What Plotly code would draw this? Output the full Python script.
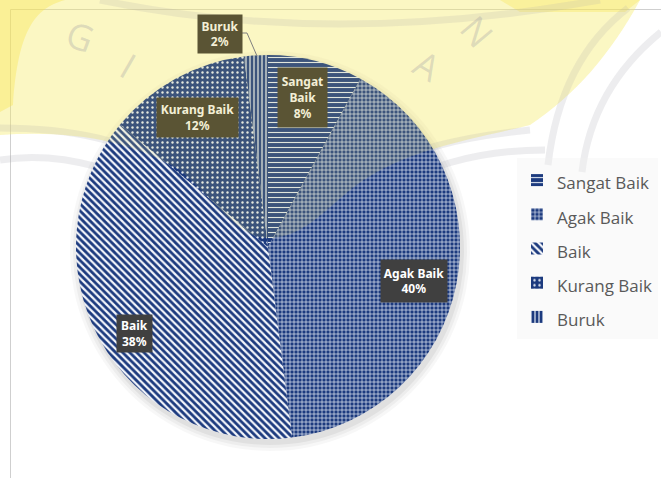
import plotly.graph_objects as go

# ---- data -------------------------------------------------------------
categories = ["Sangat Baik", "Agak Baik", "Baik", "Kurang Baik", "Buruk"]
percentages = [8, 40, 38, 12, 2]

# ---- canvas helpers (pixel -> paper) ----------------------------------
W, H = 661, 478


def px(x):
    return x / W


def py(y):
    return 1 - y / H


NAVY = "#1c3a7e"
FONT = "Noto Sans"

# per-slice hatch styles (Sangat Baik, Agak Baik, Baik, Kurang Baik, Buruk)
pattern = dict(
    shape=["-", "+", "\\", ".", "|"],
    size=[5, 4, 5, 5, 4],
    solidity=[0.22, 0.3, 0.45, 0.18, 0.3],
    fgcolor=["#dde5f0", "#eef2fa", "#f4f6fb", "#e3e9f3", "#e6ecf5"],
    bgcolor=[NAVY] * 5,
)

# legend entries use a large line box with the visible text kept at 17px
legend_labels = [f"<span style='font-size:17px'>{c}</span>" for c in categories]

fig = go.Figure()

fig.add_trace(
    go.Pie(
        labels=legend_labels,
        values=percentages,
        sort=False,
        direction="clockwise",
        rotation=0,
        textinfo="none",
        hoverinfo="percent",
        marker=dict(colors=[NAVY] * 5, line=dict(width=0), pattern=pattern),
        domain=dict(x=[px(76), px(460)], y=[py(439), py(55)]),
        showlegend=True,
    )
)

shapes = []

# soft shadow under the pie
for r, a in [(200, 0.03), (197, 0.04), (194, 0.05)]:
    cx, cy = 270, 251
    shapes.append(dict(type="circle", xref="paper", yref="paper",
                       x0=px(cx - r), x1=px(cx + r), y0=py(cy + r), y1=py(cy - r),
                       fillcolor=f"rgba(0,0,0,{a})", line=dict(width=0), layer="below"))

# chart-area frame (top and left edges)
shapes.append(dict(type="path", xref="paper", yref="paper",
                   path=f"M{px(10.5)},{py(478)} L{px(10.5)},{py(9.5)} L{px(661)},{py(9.5)}",
                   line=dict(color="#cfcfcf", width=1), layer="below"))


def path(points_cmd):
    """Build an SVG path string from pixel-space commands."""
    out = []
    for item in points_cmd:
        if isinstance(item, str):
            out.append(item)
        else:
            out.append(f"{px(item[0])},{py(item[1])}")
    return " ".join(out)


# background emblem: pale yellow shield with grey rings
shield = path(["M", (0, 0), "L", (640, 0),
               "C", (610, 55), (575, 95), (530, 125),
               "C", (470, 140), (400, 150), (350, 190),
               "C", (320, 215), (300, 238), (268, 238),
               "C", (238, 238), (215, 200), (180, 170),
               "C", (130, 140), (70, 130), (0, 135), "Z"])
shapes.append(dict(type="path", xref="paper", yref="paper", path=shield,
                   fillcolor="rgba(246,236,110,0.30)", line=dict(width=0), layer="below"))
# faint tint of the emblem over the pie
shapes.append(dict(type="path", xref="paper", yref="paper", path=shield,
                   fillcolor="rgba(246,236,110,0.15)", line=dict(width=0), layer="above"))

corner = path(["M", (0, 0), "L", (65, 0), "C", (35, 8), (18, 30), (13, 105), "L", (0, 112), "Z"])
shapes.append(dict(type="path", xref="paper", yref="paper", path=corner,
                   fillcolor="rgba(250,225,60,0.35)", line=dict(width=0), layer="below"))
corner_r = path(["M", (500, 0), "L", (640, 0), "L", (625, 12), "L", (520, 12), "Z"])
shapes.append(dict(type="path", xref="paper", yref="paper", path=corner_r,
                   fillcolor="rgba(250,225,60,0.30)", line=dict(width=0), layer="below"))

ring_color = "rgba(175,175,180,0.22)"
rings = [
    ["M", (0, 128), "C", (70, 128), (130, 140), (180, 172),
     "C", (215, 200), (238, 232), (268, 232),
     "C", (300, 232), (320, 210), (350, 186),
     "C", (400, 148), (470, 136), (530, 130)],
    ["M", (0, 160), "C", (60, 150), (120, 170), (170, 195),
     "C", (210, 220), (240, 248), (268, 248),
     "C", (300, 248), (330, 225), (360, 205),
     "C", (420, 165), (480, 150), (545, 150)],
    ["M", (100, 0), "Q", (330, 48), (600, 0)],
    ["M", (628, 8), "Q", (560, 60), (548, 165)],
    ["M", (661, 32), "Q", (592, 88), (582, 172)],
]
for r in rings:
    shapes.append(dict(type="path", xref="paper", yref="paper", path=path(r),
                       line=dict(color=ring_color, width=7), layer="below"))

# leader line for the small "Buruk" slice
shapes.append(dict(type="path", xref="paper", yref="paper",
                   path=path(["M", (242, 33), "L", (247, 33), "L", (257, 56)]),
                   line=dict(color="#7f7f7f", width=1), layer="above"))

annotations = []

# emblem lettering
for ch, (x, y), ang in [("G", (80, 37), 20), ("I", (128, 66), 30),
                        ("A", (427, 65), 30), ("N", (477, 32), 50)]:
    annotations.append(dict(text=ch, x=px(x), y=py(y), xref="paper", yref="paper",
                            xanchor="center", yanchor="middle",
                            showarrow=False, textangle=ang,
                            font=dict(family="Open Sans", size=36, color="rgba(150,150,160,0.30)")))

# data-label callouts: (center_x, center_y, box_w, box_h, fill, text colour)
OLIVE = "#5a5434"
DARK = "#404040"
label_boxes = {
    "Sangat Baik": (302.5, 97.5, 49, 59, OLIVE, "#f3efd6"),
    "Agak Baik": (414, 281, 66, 42, DARK, "#ffffff"),
    "Baik": (134.5, 333.5, 35, 37, DARK, "#ffffff"),
    "Kurang Baik": (197.5, 117.5, 81, 39, OLIVE, "#f3efd6"),
    "Buruk": (220, 34, 44, 38, OLIVE, "#f3efd6"),
}
for cat, val in zip(categories, percentages):
    cx, cy, bw, bh, fill, tc = label_boxes[cat]
    name = "Sangat<br>Baik" if cat == "Sangat Baik" else cat
    annotations.append(dict(
        text=f"{name}<br>{val}%", x=px(cx), y=py(cy), xref="paper", yref="paper",
        xanchor="center", yanchor="middle",
        showarrow=False, bgcolor=fill, borderpad=0, width=bw, height=bh,
        align="center", valign="middle",
        font=dict(family=FONT, size=12, color=tc, weight=700),
    ))

fig.update_layout(
    width=W, height=H,
    margin=dict(l=0, r=0, t=0, b=0),
    paper_bgcolor="white",
    plot_bgcolor="white",
    shapes=shapes,
    annotations=annotations,
    legend=dict(
        x=px(517), y=py(248.5), xanchor="left", yanchor="middle",
        font=dict(family="Open Sans", size=24, color="#595959"),
        bgcolor="rgba(242,242,242,0.35)",
        itemclick=False, itemdoubleclick=False,
    ),
)

fig.write_html("out.html")
